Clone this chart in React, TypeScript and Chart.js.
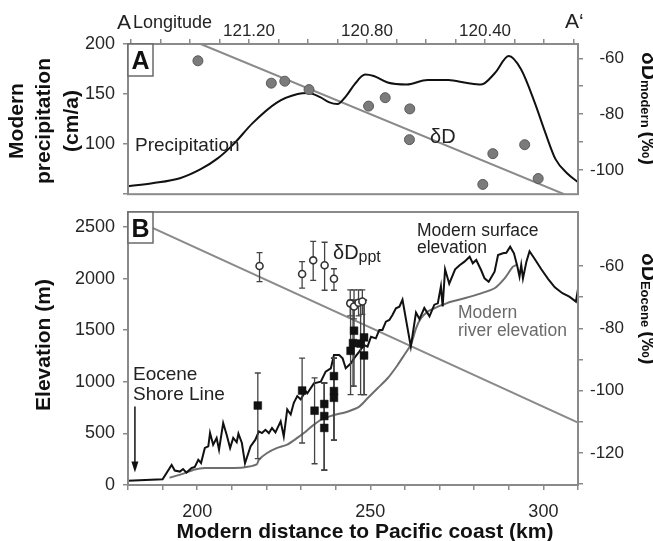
import React, { useEffect, useRef } from 'react';
import { Chart, registerables } from 'chart.js';
Chart.register(...registerables);

const FONT = '"Liberation Sans", Arial, Helvetica, sans-serif';
const GRAY = '#8a8a8a';
const TICK_COLOR = '#262626';

// ---------- Panel A ----------
const precipKm = [180, 187, 195, 201, 206, 210.5, 216, 223, 229, 232, 235.5, 238, 240.5, 243, 245.5, 248.5, 251, 255, 260.5, 266.5, 272.5, 278, 282, 286, 290, 293.5, 297.5, 300.5, 303.5, 307, 310];
const precipCm = [58, 61, 66, 75, 86, 100, 121, 141.5, 150, 151, 147, 142, 140, 148, 160, 169.5, 168, 161.5, 159.5, 164, 164, 161, 159.5, 171, 188, 175, 141.5, 112, 85, 70.5, 62];
const dDModernKm = [200.2, 221.4, 225.3, 232.3, 249.5, 254.3, 261.4, 261.3, 285.4, 282.5, 294.6, 298.5];
const dDModernVal = [-60.9, -68.9, -68.2, -71.2, -77.1, -74.1, -78.1, -89.1, -94.1, -105.1, -90.9, -103.0];
const dDModernFitKm = [201, 306];
const dDModernFitVal = [-54.9, -108.6];
const lonTicks = [120.1, 120.2, 120.3, 120.4, 120.5, 120.6, 120.7, 120.8, 120.9, 121.0, 121.1, 121.2, 121.3, 121.4, 121.5, 121.6];
const lonLabels = [121.2, 120.8, 120.4];
const precipTicks = [50, 100, 150, 200];
const precipLabels = [100, 150, 200];
const dDModernTicks = [-100, -90, -80, -70, -60];
const dDModernLabels = [-100, -80, -60];

// ---------- Panel B ----------
const surfaceKm = [180, 190, 192.6, 193.5, 195, 195.9, 196.9, 198.4, 199.3, 200.3, 201.1, 202.2, 203.2, 203.7, 204.6, 205.6, 206.3, 207.5, 208.5, 209.5, 210.4, 211.4, 211.9, 212.9, 213.8, 215.4, 216.8, 217.8, 218.7, 219.7, 220.7, 221.6, 222.6, 224.1, 225, 226, 227, 227.9, 228.9, 229.9, 231.3, 231.8, 233.7, 235.7, 237.1, 238.6, 239.5, 241, 242, 242.9, 244.4, 245.3, 246.8, 248.2, 249.2, 250.2, 251.6, 252.6, 253.5, 254.5, 255.5, 256.4, 257.4, 258.4, 259.3, 261.7, 263.2, 264.2, 265.6, 267.1, 268.5, 269.5, 270.4, 270.9, 271.6, 272.8, 274.5, 275.8, 277.2, 278.7, 279.6, 280.6, 282, 283, 284.2, 285.9, 286.9, 288.3, 289.3, 290.4, 291.5, 292.5, 293.1, 293.6, 294.1, 295.1, 296, 297.5, 299.4, 301.4, 303.3, 305.5, 307.5, 309.4, 310];
const surfaceElev = [40, 55, 195, 140, 130, 155, 120, 165, 175, 245, 213, 359, 375, 504, 391, 456, 342, 600, 487, 358, 456, 414, 497, 407, 210, 374, 439, 519, 503, 535, 503, 552, 510, 616, 471, 732, 683, 796, 861, 829, 910, 888, 985, 1001, 1098, 1131, 1259, 1259, 1227, 1131, 1179, 1227, 1292, 1356, 1340, 1437, 1421, 1502, 1502, 1583, 1599, 1647, 1712, 1728, 1795, 1340, 1670, 1608, 1715, 1634, 1747, 1760, 1925, 1731, 2090, 1950, 2090, 2130, 2164, 2212, 2148, 2180, 2083, 2002, 1970, 2067, 2229, 2245, 2250, 2309, 2245, 2115, 2019, 2132, 2002, 2164, 2265, 2190, 2090, 1995, 1915, 1858, 1825, 1777, 1900];
const riverKm = [192, 195.5, 199.3, 202.2, 209, 213.3, 217.2, 217.8, 220.2, 223.1, 226, 228.9, 230.8, 232.8, 235.7, 239.5, 243.4, 246.8, 249.2, 252.1, 255, 257.9, 259.8, 261.7, 263.2, 264.6, 266.6, 268.5, 270.4, 273.3, 277.2, 282, 285.9, 288.8, 291.2, 292.2];
const riverElev = [70, 105, 150, 165, 165, 170, 200, 245, 310, 359, 391, 456, 503, 560, 630, 678, 710, 759, 840, 937, 1034, 1163, 1260, 1357, 1518, 1615, 1680, 1712, 1740, 1776, 1809, 1857, 1906, 2002, 2115, 2132];
const eoceneFitKm = [180, 310];
const eoceneFitVal = [-44.2, -110.2];
const squareKm = [217.5, 230.3, 233.9, 236.7, 236.7, 236.7, 239.5, 239.5, 239.5, 244.3, 245.0, 245.3, 248.2, 248.2, 247.2];
const squareElev = [770, 915, 720, 785, 668, 553, 1055, 910, 845, 1300, 1375, 1495, 1430, 1255, 1370];
const squareLo = [255, 407, 206, 145, 145, 145, 435, 435, 435, 875, 957, 957, 875, 875, 875];
const squareHi = [1085, 1230, 1037, 988, 988, 988, 1230, 1230, 1230, 1790, 1790, 1790, 1790, 1790, 1790];
const circleKm = [218.0, 230.3, 233.5, 236.8, 239.5, 244.2, 245.3, 246.6, 247.7];
const circleD = [-60.0, -62.6, -58.2, -59.8, -64.1, -72.0, -73.0, -71.8, -71.4];
const circleLo = [-65.0, -67.1, -64.6, -67.8, -67.8, -76.0, -77.0, -76.0, -75.5];
const circleHi = [-55.7, -58.6, -52.1, -52.4, -60.9, -67.7, -67.7, -67.7, -67.7];
const distanceTicks = [180, 190, 200, 210, 220, 230, 240, 250, 260, 270, 280, 290, 300, 310];
const distanceLabels = [200, 250, 300];
const elevationTicks = [0, 500, 1000, 1500, 2000, 2500];
const dDEoceneTicks = [-130, -120, -110, -100, -90, -80, -70, -60];
const dDEoceneLabels = [-120, -100, -80, -60];

const pts = (xs: number[], ys: number[]) => xs.map((x, i) => ({ x, y: ys[i] }));
const near = (list: number[], v: number) => list.some((l) => Math.abs(l - v) < 1e-6);
const setTicks = (list: number[]) => (s: any) => { s.ticks = list.map((value) => ({ value })); };

const tickFont = { family: FONT, size: 17 };
const leftTickFont = { family: FONT, size: 18 };
const tickGrid = { drawOnChartArea: false, tickLength: 5, color: GRAY, lineWidth: 1.5 };

const framePlugin = {
  id: 'frame',
  afterDatasetsDraw(chart: any) {
    const { ctx, chartArea: a } = chart;
    ctx.save();
    ctx.strokeStyle = GRAY;
    ctx.lineWidth = 2;
    ctx.strokeRect(a.left, a.top, a.right - a.left, a.bottom - a.top);
    ctx.restore();
  },
};

function labelBox(ctx: CanvasRenderingContext2D, x: number, y: number, w: number, h: number, t: string) {
  ctx.save();
  ctx.fillStyle = '#fff';
  ctx.fillRect(x, y, w, h);
  ctx.strokeStyle = '#6a6a6a';
  ctx.lineWidth = 1.5;
  ctx.strokeRect(x, y, w, h);
  ctx.fillStyle = '#111';
  ctx.font = `bold 25px ${FONT}`;
  ctx.textAlign = 'center';
  ctx.textBaseline = 'alphabetic';
  ctx.fillText(t, x + w / 2, y + h / 2 + 9);
  ctx.restore();
}

function rightTitle(ctx: CanvasRenderingContext2D, x: number, y: number, sub: string) {
  ctx.save();
  ctx.translate(x, y);
  ctx.rotate(Math.PI / 2);
  ctx.fillStyle = '#111';
  ctx.textAlign = 'left';
  ctx.textBaseline = 'alphabetic';
  let cx = 0;
  ctx.font = `bold 21px ${FONT}`;
  ctx.fillText('δD', cx, 0);
  cx += ctx.measureText('δD').width;
  ctx.font = `bold 13px ${FONT}`;
  ctx.fillText(sub, cx, 1);
  cx += ctx.measureText(sub).width + 4;
  ctx.font = `bold 20px ${FONT}`;
  ctx.fillText('(‰)', cx, 0);
  ctx.restore();
}

function leftTitle(ctx: CanvasRenderingContext2D, x: number, y: number, lines: string[], step: number) {
  ctx.save();
  ctx.translate(x, y);
  ctx.rotate(-Math.PI / 2);
  ctx.fillStyle = '#111';
  ctx.font = `bold 21px ${FONT}`;
  ctx.textAlign = 'center';
  ctx.textBaseline = 'middle';
  lines.forEach((l, i) => ctx.fillText(l, 0, i * step));
  ctx.restore();
}

const textA = {
  id: 'textA',
  afterDraw(chart: any) {
    const ctx: CanvasRenderingContext2D = chart.ctx;
    const a = chart.chartArea;
    labelBox(ctx, a.left, a.top, 25, 32, 'A');
    ctx.save();
    ctx.fillStyle = '#222';
    ctx.textBaseline = 'alphabetic';
    ctx.textAlign = 'left';
    ctx.font = `19px ${FONT}`;
    ctx.fillText('Precipitation', 135, 151);
    ctx.font = `20px ${FONT}`;
    ctx.fillText('δD', 430, 143);
    ctx.font = `21px ${FONT}`;
    ctx.fillText('A', 117, 29);
    ctx.fillText('A‘', 565, 28);
    ctx.font = `18px ${FONT}`;
    ctx.fillText('Longitude', 133, 28);
    ctx.restore();
    leftTitle(ctx, 17, 121, ['Modern', 'precipitation', '(cm/a)'], 27.5);
    rightTitle(ctx, 642, 52, 'modern');
  },
};

const errorBars = {
  id: 'errorBars',
  afterDatasetDraw(chart: any, args: any) {
    if (args.index !== 2) return;
    const ctx: CanvasRenderingContext2D = chart.ctx;
    const xs = chart.scales.x;
    const yl = chart.scales.yL;
    const yr = chart.scales.yR;
    const a = chart.chartArea;
    ctx.save();
    ctx.beginPath();
    ctx.rect(a.left, a.top, a.right - a.left, a.bottom - a.top);
    ctx.clip();
    ctx.strokeStyle = '#444';
    ctx.lineWidth = 1.3;
    const bar = (x: number, y1: number, y2: number) => {
      ctx.beginPath();
      ctx.moveTo(x, y1);
      ctx.lineTo(x, y2);
      ctx.moveTo(x - 3, y1);
      ctx.lineTo(x + 3, y1);
      ctx.moveTo(x - 3, y2);
      ctx.lineTo(x + 3, y2);
      ctx.stroke();
    };
    squareKm.forEach((k, i) => bar(xs.getPixelForValue(k), yl.getPixelForValue(squareHi[i]), yl.getPixelForValue(squareLo[i])));
    circleKm.forEach((k, i) => bar(xs.getPixelForValue(k), yr.getPixelForValue(circleHi[i]), yr.getPixelForValue(circleLo[i])));
    ctx.restore();
  },
};

const textB = {
  id: 'textB',
  afterDraw(chart: any) {
    const ctx: CanvasRenderingContext2D = chart.ctx;
    const a = chart.chartArea;
    const xs = chart.scales.x;
    const yl = chart.scales.yL;
    labelBox(ctx, a.left, a.top, 25, 31, 'B');
    ctx.save();
    ctx.textBaseline = 'alphabetic';
    ctx.textAlign = 'left';
    ctx.fillStyle = '#222';
    ctx.font = `20px ${FONT}`;
    ctx.fillText('δD', 333, 259);
    const w = ctx.measureText('δD').width;
    ctx.font = `16px ${FONT}`;
    ctx.fillText('ppt', 333 + w, 262);
    ctx.font = `17.5px ${FONT}`;
    ctx.fillText('Modern surface', 417, 236);
    ctx.fillText('elevation', 417, 253);
    ctx.fillStyle = '#6a6a6a';
    ctx.fillText('Modern', 458, 318);
    ctx.fillText('river elevation', 458, 336);
    ctx.fillStyle = '#222';
    ctx.font = `19px ${FONT}`;
    ctx.fillText('Eocene', 133, 380);
    ctx.fillText('Shore Line', 133, 400);
    // arrow
    const ax = xs.getPixelForValue(182);
    const y1 = yl.getPixelForValue(760);
    const y2 = yl.getPixelForValue(120);
    ctx.strokeStyle = '#111';
    ctx.fillStyle = '#111';
    ctx.lineWidth = 1.5;
    ctx.beginPath();
    ctx.moveTo(ax, y1);
    ctx.lineTo(ax, y2 - 8);
    ctx.stroke();
    ctx.beginPath();
    ctx.moveTo(ax - 3.5, y2 - 11);
    ctx.lineTo(ax + 3.5, y2 - 11);
    ctx.lineTo(ax, y2);
    ctx.closePath();
    ctx.fill();
    // bottom title
    ctx.fillStyle = '#111';
    ctx.font = `bold 21px ${FONT}`;
    ctx.textAlign = 'center';
    ctx.fillText('Modern distance to Pacific coast (km)', 365, 538);
    ctx.restore();
    leftTitle(ctx, 44, 345, ['Elevation (m)'], 0);
    rightTitle(ctx, 642, 253, 'Eocene');
  },
};

function makeChartA(canvas: HTMLCanvasElement) {
  return new Chart(canvas, {
    type: 'line',
    data: {
      datasets: [
        {
          type: 'scatter',
          data: pts(dDModernKm, dDModernVal),
          xAxisID: 'x',
          yAxisID: 'yR',
          pointRadius: 5,
          pointBackgroundColor: '#7b7b7b',
          pointBorderColor: '#5a5a5a',
          pointBorderWidth: 1,
          showLine: false,
        } as any,
        {
          data: pts(precipKm, precipCm),
          xAxisID: 'x',
          yAxisID: 'yL',
          borderColor: '#111',
          borderWidth: 2,
          pointRadius: 0,
          cubicInterpolationMode: 'monotone',
          fill: false,
        },
        {
          data: pts(dDModernFitKm, dDModernFitVal),
          xAxisID: 'x',
          yAxisID: 'yR',
          borderColor: GRAY,
          borderWidth: 2,
          pointRadius: 0,
          fill: false,
        },
      ],
    },
    options: {
      animation: false,
      responsive: false,
      events: [],
      layout: { padding: { left: 0, right: 29, top: 0, bottom: 1 } },
      plugins: { legend: { display: false }, tooltip: { enabled: false } },
      scales: {
        x: { type: 'linear', min: 180, max: 310, display: false },
        lon: {
          type: 'linear',
          position: 'top',
          reverse: true,
          min: 120.085,
          max: 121.61,
          border: { display: false },
          grid: tickGrid,
          afterBuildTicks: setTicks(lonTicks),
          ticks: {
            autoSkip: false,
            maxRotation: 0,
            padding: -3,
            font: tickFont,
            color: TICK_COLOR,
            callback: (v: any) => (near(lonLabels, v) ? Number(v).toFixed(2) : ''),
          },
          afterFit: (s: any) => { s.height = 44; },
        } as any,
        yL: {
          type: 'linear',
          position: 'left',
          min: 50,
          max: 200,
          border: { display: false },
          grid: tickGrid,
          afterBuildTicks: setTicks(precipTicks),
          ticks: {
            autoSkip: false,
            padding: 8,
            font: leftTickFont,
            color: TICK_COLOR,
            callback: (v: any) => (near(precipLabels, v) ? String(v) : ''),
          },
          afterFit: (s: any) => { s.width = 128; },
        } as any,
        yR: {
          type: 'linear',
          position: 'right',
          min: -108.6,
          max: -54.9,
          border: { display: false },
          grid: tickGrid,
          afterBuildTicks: setTicks(dDModernTicks),
          ticks: {
            autoSkip: false,
            crossAlign: 'far',
            font: tickFont,
            color: TICK_COLOR,
            callback: (v: any) => (near(dDModernLabels, v) ? String(v) : ''),
          },
          afterFit: (s: any) => { s.width = 46; },
        } as any,
      },
    },
    plugins: [framePlugin, textA],
  });
}

function makeChartB(canvas: HTMLCanvasElement) {
  return new Chart(canvas, {
    type: 'line',
    data: {
      datasets: [
        {
          type: 'scatter',
          data: pts(circleKm, circleD),
          xAxisID: 'x',
          yAxisID: 'yR',
          pointRadius: 3.5,
          pointBackgroundColor: '#fff',
          pointBorderColor: '#333',
          pointBorderWidth: 1.6,
          showLine: false,
        } as any,
        {
          type: 'scatter',
          data: pts(squareKm, squareElev),
          xAxisID: 'x',
          yAxisID: 'yL',
          pointStyle: 'rect',
          pointRadius: 5.5,
          pointBackgroundColor: '#111',
          pointBorderColor: '#111',
          pointBorderWidth: 0.5,
          showLine: false,
        } as any,
        {
          data: pts(surfaceKm, surfaceElev),
          xAxisID: 'x',
          yAxisID: 'yL',
          borderColor: '#111',
          borderWidth: 2,
          pointRadius: 0,
          tension: 0,
          fill: false,
        },
        {
          data: pts(riverKm, riverElev),
          xAxisID: 'x',
          yAxisID: 'yL',
          borderColor: '#6e6e6e',
          borderWidth: 2,
          pointRadius: 0,
          tension: 0.2,
          fill: false,
        },
        {
          data: pts(eoceneFitKm, eoceneFitVal),
          xAxisID: 'x',
          yAxisID: 'yR',
          borderColor: GRAY,
          borderWidth: 2,
          pointRadius: 0,
          fill: false,
        },
      ],
    },
    options: {
      animation: false,
      responsive: false,
      events: [],
      layout: { padding: { left: 0, right: 29, top: 212, bottom: 0 } },
      plugins: { legend: { display: false }, tooltip: { enabled: false } },
      scales: {
        x: {
          type: 'linear',
          position: 'bottom',
          min: 180,
          max: 310,
          border: { display: false },
          grid: tickGrid,
          afterBuildTicks: setTicks(distanceTicks),
          ticks: {
            autoSkip: false,
            maxRotation: 0,
            padding: 11,
            font: leftTickFont,
            color: TICK_COLOR,
            callback: (v: any) => (near(distanceLabels, v) ? String(Math.round(v)) : ''),
          },
          afterFit: (s: any) => { s.height = 56; },
        } as any,
        yL: {
          type: 'linear',
          position: 'left',
          min: 0,
          max: 2645,
          border: { display: false },
          grid: tickGrid,
          afterBuildTicks: setTicks(elevationTicks),
          ticks: {
            autoSkip: false,
            padding: 8,
            font: leftTickFont,
            color: TICK_COLOR,
            callback: (v: any) => String(Math.round(v)),
          },
          afterFit: (s: any) => { s.width = 128; },
        } as any,
        yR: {
          type: 'linear',
          position: 'right',
          min: -130.25,
          max: -42.7,
          border: { display: false },
          grid: tickGrid,
          afterBuildTicks: setTicks(dDEoceneTicks),
          ticks: {
            autoSkip: false,
            crossAlign: 'far',
            font: tickFont,
            color: TICK_COLOR,
            callback: (v: any) => (near(dDEoceneLabels, v) ? String(Math.round(v)) : ''),
          },
          afterFit: (s: any) => { s.width = 46; },
        } as any,
      },
    },
    plugins: [framePlugin, errorBars, textB],
  });
}

export default function App() {
  const refA = useRef<HTMLCanvasElement>(null);
  const refB = useRef<HTMLCanvasElement>(null);
  useEffect(() => {
    const ca = makeChartA(refA.current!);
    const cb = makeChartB(refB.current!);
    return () => {
      ca.destroy();
      cb.destroy();
    };
  }, []);
  return (
    <div style={{ position: 'absolute', left: 0, top: 0, width: 653, height: 541, background: '#fff' }}>
      <canvas ref={refB} width={653} height={541} style={{ position: 'absolute', left: 0, top: 0, width: 653, height: 541 }} />
      <canvas ref={refA} width={653} height={213} style={{ position: 'absolute', left: 0, top: 0, width: 653, height: 213 }} />
    </div>
  );
}
